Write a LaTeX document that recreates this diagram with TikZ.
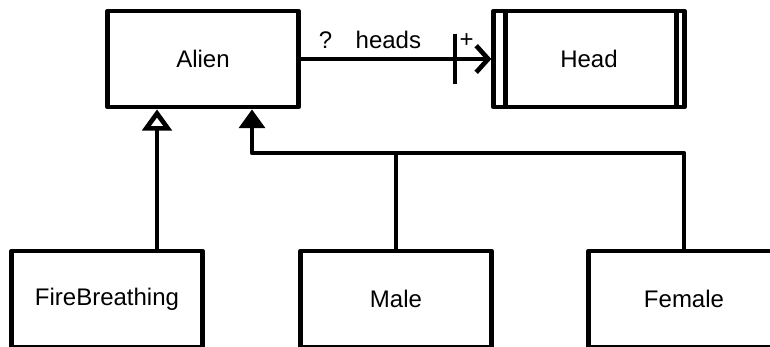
\documentclass[tikz,border=0pt]{standalone}
\usepackage{fontspec}
\setmainfont{Liberation Sans}
\usetikzlibrary{arrows.meta, positioning}

\begin{document}
\begin{tikzpicture}[
            x = 0.75pt, y = -0.75pt, % pixel grid, y runs down
            line width = 3.5pt, % heavy strokes
            line join = round,
            font = \fontsize{18pt}{21pt}\selectfont,
            node distance = 143pt % gap between boxes
        ]

        \tikzstyle{class}=[
            draw = black,
            fill = white,
            minimum width = 143pt,
            minimum height = 72pt,
            inner sep = 0pt
        ]
        \tikzstyle{assoc}=[-{Straight Barb[length=9pt, width=20pt]}]
        \tikzstyle{extends}=[-{Triangle[open, length=16pt, width=22pt]}]
        \tikzstyle{realizes}=[-{Triangle[length=14pt, width=19pt]}]

        \path[use as bounding box, clip] (0,0) rectangle (770,346);

        \node[class] (alien) at (203,59) {Alien};
        \node[class] (head) [right=of alien] {Head};
        \node[class] (fire) at (107,299) {FireBreathing};
        \node[class] (male) at (396,299) {Male};
        \node[class] (female) at (684,299) {Female};

        % double bars of the head box
        \draw ([xshift=10.5pt]head.north west) -- ([xshift=10.5pt]head.south west);
        \draw ([xshift=-7.5pt]head.north east) -- ([xshift=-7.5pt]head.south east);

        \draw[assoc] (alien) -- (head)
            node[pos=0.13, yshift=14.5pt] {?}
            node[pos=0.46, yshift=14.5pt] {heads}
            node[pos=0.87, yshift=13.5pt] {+}
            coordinate[pos=0.81] (tick);
        \draw ([yshift=19pt]tick) -- ([yshift=-19pt]tick);

        \coordinate (firebar) at (157,0);
        \coordinate (bus) at (252,153);

        \draw[extends] (firebar |- fire.north) -- (firebar |- alien.south);
        \draw (male) -- (male |- bus);
        \draw[realizes] (female) |- (bus) -- (bus |- alien.south);
    \end{tikzpicture}
\end{document}
